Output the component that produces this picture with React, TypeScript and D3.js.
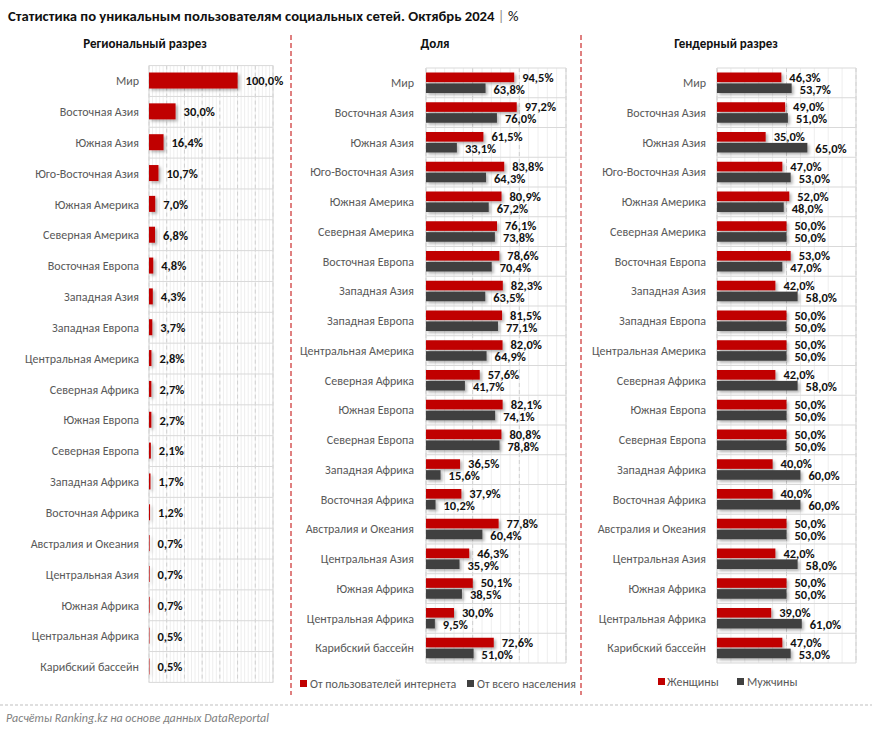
import React from "react";
import * as d3 from "d3";

const regions = [
  "Мир", "Восточная Азия", "Южная Азия", "Юго-Восточная Азия", "Южная Америка",
  "Северная Америка", "Восточная Европа", "Западная Азия", "Западная Европа",
  "Центральная Америка", "Северная Африка", "Южная Европа", "Северная Европа",
  "Западная Африка", "Восточная Африка", "Австралия и Океания", "Центральная Азия",
  "Южная Африка", "Центральная Африка", "Карибский бассейн",
];

const regionalShare = [100, 30.0, 16.4, 10.7, 7.0, 6.8, 4.8, 4.3, 3.7, 2.8, 2.7, 2.7, 2.1, 1.7, 1.2, 0.7, 0.7, 0.7, 0.5, 0.5];

const ofInternetUsers = [94.5, 97.2, 61.5, 83.8, 80.9, 76.1, 78.6, 82.3, 81.5, 82.0, 57.6, 82.1, 80.8, 36.5, 37.9, 77.8, 46.3, 50.1, 30.0, 72.6];
const ofPopulation = [63.8, 76.0, 33.1, 64.3, 67.2, 73.8, 70.4, 63.5, 77.1, 64.9, 41.7, 74.1, 78.8, 15.6, 10.2, 60.4, 35.9, 38.5, 9.5, 51.0];

const women = [46.3, 49.0, 35.0, 47.0, 52.0, 50.0, 53.0, 42.0, 50.0, 50.0, 42.0, 50.0, 50.0, 40.0, 40.0, 50.0, 42.0, 50.0, 39.0, 47.0];
const men = [53.7, 51.0, 65.0, 53.0, 48.0, 50.0, 47.0, 58.0, 50.0, 50.0, 58.0, 50.0, 50.0, 60.0, 60.0, 50.0, 58.0, 50.0, 61.0, 53.0];

const RED = "#c00000";
const GRAY = "#404040";
const FONT = "Carlito, 'Liberation Sans Narrow', Roboto, sans-serif";
const fmt = (v: number) => v.toFixed(1).replace(".", ",") + "%";

// grid + row separators for one plot
const Grid: React.FC<{
  x: d3.ScaleLinear<number, number>;
  y: d3.ScaleBand<string>;
  major: number;
  minor: number;
}> = ({ x, y, major, minor }) => {
  const [d0, d1] = x.domain();
  const minorTicks = d3.range(d0, d1 + 0.001, minor);
  const majorTicks = d3.range(d0, d1 + 0.001, major);
  const [top, bottom] = y.range();
  const step = y.step();
  const rows = d3.range(y.domain().length + 1).map(i => top + i * step);
  return (
    <g>
      {minorTicks.map(t => (
        <line key={"m" + t} x1={x(t)} x2={x(t)} y1={top} y2={bottom} stroke="#eeeeee" strokeWidth={1} />
      ))}
      {majorTicks.map(t => (
        <line key={"M" + t} x1={x(t)} x2={x(t)} y1={top} y2={bottom} stroke="#d0d0d0" strokeDasharray="4,3" />
      ))}
      {rows.map((r, i) => (
        <line key={"r" + i} x1={x(d0)} x2={x(d1)} y1={r} y2={r} stroke="#d9d9d9" strokeWidth={1} />
      ))}
      <line x1={x(d0)} x2={x(d0)} y1={top} y2={bottom} stroke="#d9d9d9" />
      <line x1={x(d1)} x2={x(d1)} y1={top} y2={bottom} stroke="#d9d9d9" />
    </g>
  );
};

const Labels: React.FC<{ y: d3.ScaleBand<string>; right: number; size: number }> = ({ y, right, size }) => (
  <g>
    {y.domain().map(c => (
      <text key={c} x={right} y={(y(c) as number) + y.bandwidth() / 2} dy="0.35em" textAnchor="end" fontSize={size} fill="#595959">
        {c}
      </text>
    ))}
  </g>
);

const App: React.FC = () => {
  // panel 1
  const x1 = d3.scaleLinear().domain([0, 140]).range([149, 273]);
  const y1 = d3.scaleBand<string>().domain(regions).range([65.6, 682.4]).paddingInner(0);
  const bar1 = 16;

  // panel 2
  const x2 = d3.scaleLinear().domain([0, 150]).range([426, 566]);
  const y2 = d3.scaleBand<string>().domain(regions).range([68, 663]);
  const sub = d3.scaleBand<string>().domain(["a", "b"]).range([4.5, 25]).paddingInner(0.12);

  // panel 3
  const x3 = d3.scaleLinear().domain([0, 100]).range([717, 856]);

  const pairPanel = (
    x: d3.ScaleLinear<number, number>,
    a: number[],
    b: number[],
    key: string
  ) => (
    <g>
      <g filter="url(#shadow)">
        {regions.map((r, i) => (
          <g key={key + r}>
            <rect x={x(0)} y={(y2(r) as number) + (sub("a") as number)} width={x(a[i]) - x(0)} height={sub.bandwidth()} fill={RED} />
            <rect x={x(0)} y={(y2(r) as number) + (sub("b") as number)} width={x(b[i]) - x(0)} height={sub.bandwidth()} fill={GRAY} />
          </g>
        ))}
      </g>
      {regions.map((r, i) => (
        <g key={key + "t" + r} fontSize={12.5} fontWeight={600} fill="#111">
          <text x={x(a[i]) + 8} y={(y2(r) as number) + (sub("a") as number) + sub.bandwidth() / 2} dy="0.35em">{fmt(a[i])}</text>
          <text x={x(b[i]) + 8} y={(y2(r) as number) + (sub("b") as number) + sub.bandwidth() / 2 + 1} dy="0.35em">{fmt(b[i])}</text>
        </g>
      ))}
    </g>
  );

  return (
    <svg width={872} height={729} style={{ position: "absolute", left: 0, top: 0, fontFamily: FONT }}>
      <defs>
        <filter id="shadow" x="-10%" y="-30%" width="130%" height="180%">
          <feDropShadow dx={2} dy={2} stdDeviation={1.5} floodColor="#000" floodOpacity={0.3} />
        </filter>
      </defs>
      <rect width={872} height={729} fill="#fff" />

      <text x={8} y={21} fontSize={14.7} fontWeight="bold" fill="#111">
        Статистика по уникальным пользователям социальных сетей. Октябрь 2024
        <tspan fill="#8c8c8c" fontWeight="normal"> | </tspan>
        <tspan fontWeight="normal">%</tspan>
      </text>

      <text x={145} y={48} textAnchor="middle" fontSize={13} fontWeight="bold" fill="#111">Региональный разрез</text>
      <text x={435} y={48} textAnchor="middle" fontSize={13} fontWeight="bold" fill="#111">Доля</text>
      <text x={726} y={48} textAnchor="middle" fontSize={13} fontWeight="bold" fill="#111">Гендерный разрез</text>

      <line x1={291} x2={291} y1={35} y2={695} stroke={RED} strokeDasharray="5,3" />
      <line x1={581} x2={581} y1={35} y2={695} stroke={RED} strokeDasharray="5,3" />

      {/* panel 1 */}
      <Grid x={x1} y={y1} major={20} minor={4} />
      <Labels y={y1} right={139} size={12} />
      <g filter="url(#shadow)">
        {regions.map((r, i) => (
          <rect key={r} x={x1(0)} y={(y1(r) as number) + (y1.bandwidth() - bar1) / 2 - 0.5} width={x1(regionalShare[i]) - x1(0)} height={bar1} fill={RED} />
        ))}
      </g>
      {regions.map((r, i) => (
        <text key={"v" + r} x={x1(regionalShare[i]) + 8} y={(y1(r) as number) + y1.bandwidth() / 2} dy="0.35em" fontSize={12.5} fontWeight={600} fill="#111">
          {fmt(regionalShare[i])}
        </text>
      ))}

      {/* panel 2 */}
      <Grid x={x2} y={y2} major={50} minor={10} />
      <Labels y={y2} right={414} size={12} />
      {pairPanel(x2, ofInternetUsers, ofPopulation, "p2")}

      {/* panel 3 */}
      <Grid x={x3} y={y2} major={50} minor={10} />
      <Labels y={y2} right={706} size={12} />
      {pairPanel(x3, women, men, "p3")}

      {/* legends */}
      <g fontSize={12} fill="#595959">
        <rect x={300} y={680} width={7} height={7} fill={RED} />
        <text x={310} y={684} dy="0.35em">От пользователей интернета</text>
        <rect x={467} y={680} width={7} height={7} fill={GRAY} />
        <text x={477} y={684} dy="0.35em">От всего населения</text>
        <rect x={658} y={678} width={7} height={7} fill={RED} />
        <text x={667} y={682} dy="0.35em">Женщины</text>
        <rect x={737} y={678} width={7} height={7} fill={GRAY} />
        <text x={747} y={682} dy="0.35em">Мужчины</text>
      </g>

      <line x1={0} x2={872} y1={705} y2={705} stroke="#bfbfbf" strokeDasharray="3,2" />
      <text x={6} y={718} dy="0.35em" fontSize={12} fontStyle="italic" fill="#7f7f7f">
        Расчёты Ranking.kz на основе данных DataReportal
      </text>
    </svg>
  );
};

export default App;
